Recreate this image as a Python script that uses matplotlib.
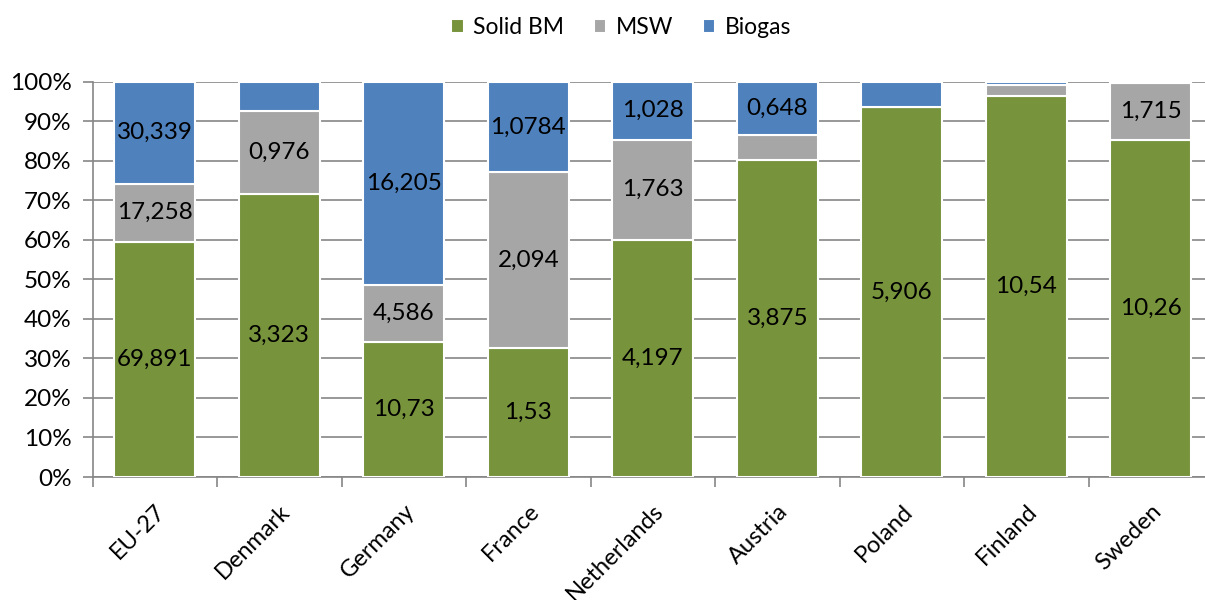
import matplotlib
matplotlib.use("Agg")
import matplotlib.pyplot as plt
import numpy as np

plt.rcParams['font.family'] = ['Lato', 'DejaVu Sans']

countries = ["EU-27", "Denmark", "Germany", "France", "Netherlands",
             "Austria", "Poland", "Finland", "Sweden"]
solid_bm = [69.891, 3.323, 10.73, 1.53, 4.197, 3.875, 5.906, 10.54, 10.26]
msw = [17.258, 0.976, 4.586, 2.094, 1.763, 0.313, 0.0, 0.306, 1.715]
biogas = [30.339, 0.342, 16.205, 1.0784, 1.028, 0.648, 0.41, 0.087, 0.048]

solid_labels = ["69,891", "3,323", "10,73", "1,53", "4,197", "3,875", "5,906", "10,54", "10,26"]
msw_labels = ["17,258", "0,976", "4,586", "2,094", "1,763", None, None, None, "1,715"]
biogas_labels = ["30,339", None, "16,205", "1,0784", "1,028", "0,648", None, None, None]

series_names = ["Solid BM", "MSW", "Biogas"]
colors = ["#77933C", "#A6A6A6", "#4F81BD"]

W, H = 1205, 600
fig = plt.figure(figsize=(W / 100, H / 100), dpi=100)
left_px, right_px = 92.6, 92.6 + 9 * 124.5
top_px, bot_px = 81.7, 477.0
ax = fig.add_axes([left_px / W, 1 - bot_px / H, (right_px - left_px) / W, (bot_px - top_px) / H])

data = np.array([solid_bm, msw, biogas], dtype=float)
totals = data.sum(axis=0)
pct = data / totals * 100
labels = [solid_labels, msw_labels, biogas_labels]

x = np.arange(len(countries))
bottom = np.zeros(len(countries))
handles = []
for i in range(3):
    b = ax.bar(x, pct[i], bottom=bottom, width=0.65, color=colors[i],
               edgecolor="white", linewidth=1.5, zorder=3, label=series_names[i])
    handles.append(b)
    for j in range(len(countries)):
        lab = labels[i][j]
        if lab:
            ax.text(x[j], bottom[j] + pct[i][j] / 2, lab, ha="center", va="center",
                    fontsize=17.5, color="black", zorder=4)
    bottom += pct[i]

ax.set_xlim(-0.5, len(countries) - 0.5)
ax.set_ylim(0, 100)
ax.set_yticks(np.arange(0, 101, 10))
ax.set_yticklabels([f"{v}%" for v in range(0, 101, 10)], fontsize=17.5)
ax.yaxis.grid(True, color="#868686", linewidth=1.2, zorder=0)
ax.set_axisbelow(True)

ax.set_xticks(np.arange(-0.5, len(countries), 1.0))
ax.set_xticklabels([])
ax.set_xticks(x, minor=True)
ax.set_xticklabels(countries, minor=True, rotation=45, ha="right", va="top",
                   rotation_mode="anchor", fontsize=17)
ax.tick_params(axis="x", which="minor", length=0, pad=17)
ax.tick_params(axis="x", which="major", length=7, color="#868686", width=1.2)
ax.tick_params(axis="y", length=7, color="#868686", width=1.2, direction="out", pad=8)

for s in ["top", "right"]:
    ax.spines[s].set_visible(False)
for s in ["left", "bottom"]:
    ax.spines[s].set_color("#868686")
    ax.spines[s].set_linewidth(1.2)

fig.legend(handles=handles, labels=series_names, loc="center", bbox_to_anchor=(621 / W, 1 - 28 / H),
           ncol=3, frameon=False, fontsize=16.5, handlelength=0.55, handleheight=0.55,
           handletextpad=0.4, columnspacing=1.3)

fig.savefig("out.png", dpi=100)
